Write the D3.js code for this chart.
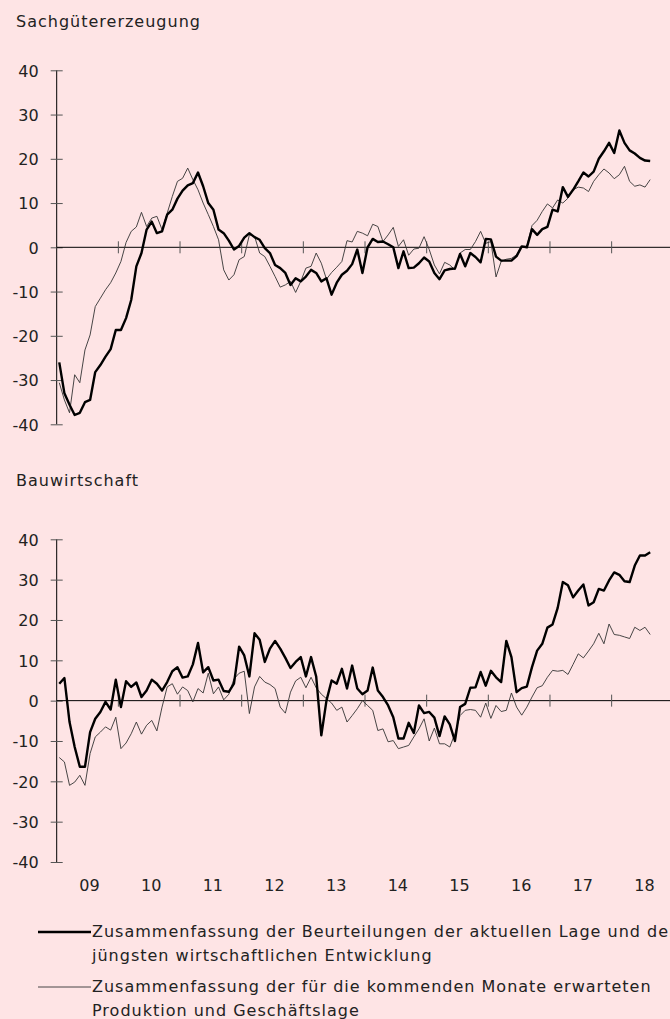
<!DOCTYPE html>
<html>
<head>
<meta charset="utf-8">
<script src="https://cdn.jsdelivr.net/npm/d3@7"></script>
<style>
  body { margin: 0; background: #fee4e5; }
  svg { display: block; font-family: "DejaVu Sans", sans-serif; }
  .lbl { font-size: 16px; fill: #222; }
  .txt { font-size: 16px; fill: #222; letter-spacing: 1px; }
</style>
</head>
<body>
<div id="chart"></div>
<script>
// monthly values, Jan 2009 .. Aug 2018
const yearLabels = ["09", "10", "11", "12", "13", "14", "15", "16", "17", "18"];

const industryCurrent = [
  -26.0, -33, -35.6, -37.9, -37.4, -35, -34.5, -28.2, -26.6, -24.7, -23, -18.7,
  -18.7, -16, -11.9, -4.3, -1.3, 4, 5.8, 3.2, 3.6, 7.4, 8.5, 11,
  12.8, 14, 14.5, 16.9, 13.8, 10, 8.5, 4, 3.2, 1.5, -0.5, 0.3,
  2.2, 3.2, 2.3, 1.7, -0.2, -1.3, -4, -4.7, -5.8, -8.5, -7, -7.7,
  -6.6, -5.1, -5.8, -7.7, -7, -10.7, -8, -6.2, -5.3, -3.8, -0.5, -5.8,
  0, 1.9, 1.2, 1.3, 0.7, 0, -4.7, -0.9, -4.7, -4.6, -3.6, -2.3,
  -3.2, -5.8, -7.2, -5.2, -4.9, -4.8, -1.5, -4.3, -1.3, -2.2, -3.4, 1.9,
  1.8, -2.1, -3, -3, -3, -2, 0.2, 0, 4.1, 2.8, 4.1, 4.6,
  8.5, 8.1, 13.6, 11.4, 13, 14.9, 16.9, 16, 17.1, 20, 21.7, 23.6,
  21.3, 26.4, 23.6, 21.9, 21.2, 20.2, 19.6, 19.5
];
const industryExpected = [
  -30.6, -34.5, -37.4, -28.8, -30.6, -23.2, -19.8, -13.4, -11.5, -9.6, -8, -5.8,
  -3.2, 1.1, 3.6, 4.6, 7.9, 4.7, 6.6, 7, 4, 7.7, 11.5, 14.9,
  15.6, 17.9, 15.3, 13, 10, 7.4, 4.7, 1.7, -5.1, -7.4, -6.2, -2.8,
  -2.1, 2.8, 2.5, -1.3, -2.1, -4.3, -6.6, -9, -8.5, -7.7, -10.2, -7.7,
  -4.7, -4.3, -1.3, -3.6, -7.2, -5.7, -4.5, -3.2, 1.5, 1.2, 3.6, 3.2,
  2.6, 5.2, 4.7, 1.3, 2.8, 4.5, 0.2, 1.7, -1.8, -0.4, -0.2, 2.4,
  -0.5, -4, -6, -3.4, -4, -5.1, -1.3, -0.5, -0.5, 1.3, 3.6, 0.9,
  1.3, -6.7, -3.2, -2.7, -2.5, -1.7, 0.2, 0.2, 4.9, 6.1, 8.1, 9.8,
  8.9, 10.7, 10, 11.1, 13, 13.6, 13.4, 12.6, 14.9, 16.4, 17.7, 16.8,
  15.5, 16.4, 18.3, 14.9, 13.8, 14.1, 13.6, 15.3
];
const constructionCurrent = [
  4.2, 5.6, -5.3, -11.5, -16.4, -16.4, -7.8, -4.5, -2.8, -0.3, -2.2, 5.2,
  -1.6, 4.8, 3.4, 4.5, 0.9, 2.5, 5.2, 4.2, 2.5, 4.6, 7.3, 8.3,
  5.7, 6, 9, 14.3, 7, 8.3, 5, 5.2, 2.4, 2.2, 4.2, 13.4,
  11.2, 6, 16.7, 15.1, 9.6, 12.9, 14.8, 12.9, 10.6, 8.1, 9.6, 10.8,
  6, 10.8, 6, -8.6, 0, 5, 4.2, 7.9, 3, 8.7, 3, 1.6,
  2.5, 8.2, 2.5, 0.9, -1.2, -4.1, -9.4, -9.4, -5.5, -8, -1.2, -3.1,
  -2.8, -4.2, -8.8, -3.9, -5.9, -10, -1.6, -0.8, 3.2, 3.3, 7.1, 3.7,
  7.4, 5.8, 4.6, 14.8, 10.8, 2.1, 3.1, 3.5, 8.3, 12.4, 14.1, 18.1,
  18.9, 23, 29.4, 28.6, 25.6, 27.3, 28.8, 23.6, 24.4, 27.7, 27.3, 29.8,
  31.8, 31.2, 29.6, 29.4, 33.5, 36, 36, 36.8
];
const constructionExpected = [
  -14.1, -15.2, -21, -20.2, -18.5, -21, -13.1, -9, -7.8, -6.5, -7.3, -4.1,
  -11.9, -10.5, -8.2, -5.3, -8.3, -6.1, -4.9, -7.5, -1.6, 3.4, 4.2, 1.6,
  3.4, 2.5, -0.3, 3, 1.9, 6.8, 1.7, 3.4, 0.2, 1.6, 5.4, 6.8,
  7.3, -3.2, 3.4, 6, 4.6, 4, 3, -1.6, -3.1, 2.1, 4.9, 5.8,
  3.2, 5.8, 3.2, 1.6, 0.5, -0.6, -2.4, -1.6, -5.3, -3.7, -2, 0,
  -1.2, -2.4, -7.4, -7, -10.2, -9.9, -11.9, -11.5, -11.1, -9, -7, -4.5,
  -10, -6.8, -10.7, -10.7, -11.5, -8.2, -3.7, -2.4, -2.2, -2.4, -4.1, -0.6,
  -4.4, -1.2, -2.7, -2.4, 1.9, -1.6, -3.6, -1.6, 0.9, 3.2, 3.7, 5.8,
  7.5, 7.3, 7.5, 6.5, 9, 11.6, 10.6, 12.3, 14.1, 16.7, 14.1, 19,
  16.4, 16.2, 15.8, 15.4, 18.2, 17.4, 18.2, 16.4
];
const yTicks = [40, 30, 20, 10, 0, -10, -20, -30, -40];
const legendLabels = [
  ["Zusammenfassung der Beurteilungen der aktuellen Lage und der", "jüngsten wirtschaftlichen Entwicklung"],
  ["Zusammenfassung der für die kommenden Monate erwarteten", "Produktion und Geschäftslage"]
];

const width = 670, height = 1019;
const x0 = 56.7;

const svg = d3.select("#chart").append("svg")
  .attr("width", width)
  .attr("height", height);

svg.append("rect")
  .attr("width", width)
  .attr("height", height)
  .attr("fill", "#fee4e5");

// months since Jan 2009 -> px; points sit mid-month
const x = d3.scaleLinear()
  .domain([0, yearLabels.length * 12])
  .range([x0, 673.3]);

function drawPanel(title, titleY, yTop, yBottom, current, expected) {
  const y = d3.scaleLinear().domain([-40, 40]).range([yBottom, yTop]);
  const g = svg.append("g");

  g.append("text")
    .attr("class", "txt")
    .attr("x", 16)
    .attr("y", titleY)
    .text(title);

  // y axis, ticks cross the line
  const yAxis = g.append("g")
    .attr("transform", `translate(${x0},0)`)
    .attr("font-size", null)
    .attr("font-family", null)
    .call(d3.axisLeft(y).tickValues(yTicks).tickSize(6).tickPadding(12).tickFormat(d => String(d)));
  yAxis.attr("font-size", null).attr("font-family", null);
  yAxis.select(".domain").attr("stroke", "#000").attr("d", `M0,${yBottom}V${yTop}`);
  yAxis.selectAll(".tick line").attr("stroke", "#555").attr("x1", 6);
  yAxis.selectAll(".tick text")
    .attr("class", "lbl")
    .attr("fill", null)
    .attr("dy", "0.36em");

  // zero line with year marks
  g.append("line")
    .attr("x1", x0).attr("x2", width)
    .attr("y1", y(0)).attr("y2", y(0))
    .attr("stroke", "#000");

  g.selectAll(".yr")
    .data(d3.range(1, yearLabels.length))
    .join("line")
    .attr("x1", d => x(d * 12)).attr("x2", d => x(d * 12))
    .attr("y1", y(0) - 6).attr("y2", y(0) + 6)
    .attr("stroke", "#555");

  const line = d3.line()
    .x((d, i) => x(i + 0.5))
    .y(d => y(d));

  g.append("path")
    .datum(expected)
    .attr("fill", "none")
    .attr("stroke", "#333")
    .attr("stroke-width", 0.9)
    .attr("d", line);

  g.append("path")
    .datum(current)
    .attr("fill", "none")
    .attr("stroke", "#000")
    .attr("stroke-width", 2.4)
    .attr("stroke-linejoin", "round")
    .attr("d", line);

  return y;
}

drawPanel("Sachgütererzeugung", 27, 70.3, 424.3, industryCurrent, industryExpected);
drawPanel("Bauwirtschaft", 486, 539.3, 862, constructionCurrent, constructionExpected);

// year labels under the lower panel
svg.selectAll(".year")
  .data(yearLabels)
  .join("text")
  .attr("class", "lbl")
  .attr("x", (d, i) => x(i * 12 + 6) + 2)
  .attr("y", 891)
  .attr("text-anchor", "middle")
  .text(d => d);

// legend
const legend = svg.selectAll(".legend")
  .data(legendLabels)
  .join("g")
  .attr("transform", (d, i) => `translate(0,${932 + i * 55})`);

legend.append("line")
  .attr("x1", 38).attr("x2", 91)
  .attr("stroke", (d, i) => i === 0 ? "#000" : "#333")
  .attr("stroke-width", (d, i) => i === 0 ? 2.4 : 0.9);

legend.selectAll("text")
  .data(d => d)
  .join("text")
  .attr("class", "txt")
  .attr("x", 92)
  .attr("y", (d, i) => 5 + i * 24)
  .text(d => d);
</script>
</body>
</html>
